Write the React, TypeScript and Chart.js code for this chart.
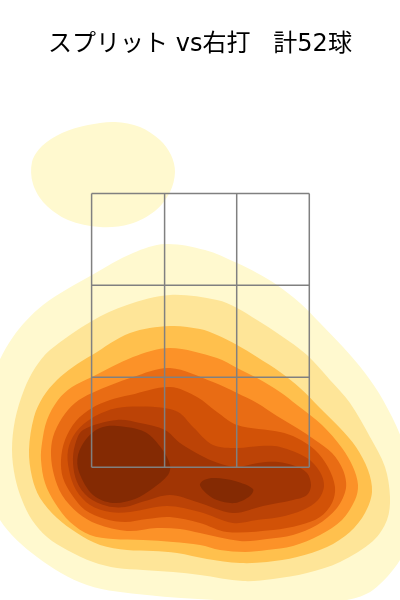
import { useEffect, useRef } from "react";
import { Chart, registerables } from "chart.js";

Chart.register(...registerables);

const titleText = "スプリット vs右打   計52球";

// Strike-zone grid lines (plot units)
const zoneX = [91.6, 164.6, 236.7, 309.3];
const zoneY = [193.4, 285.3, 377.2, 467.2];

// Density contours, outermost first
const level1Top = [[175,172],[170,192],[155,211],[130,224],[100,227],[68,220],[45,204],[33,184],[32,162],[42,146],[62,133],[88,125],[115,122],[140,127],[160,140],[171,155]];
const level1 = [[165,244],[133,253],[92,275],[43,305],[13,337],[-6,375],[-14,430],[-12,480],[0,520],[37,557],[87,585],[147,595],[233,601],[300,604],[347,600],[373,590],[400,560],[411,530],[414,490],[402,440],[383,400],[365,373],[343,347],[320,323],[300,303],[277,285],[257,273],[237,263],[205,250]];
const level2 = [[170,295],[127,305],[92,321],[50,350],[35,368],[24,390],[15,420],[12,450],[15,477],[22,500],[32,520],[47,537],[67,550],[93,562],[117,568],[143,570],[173,572],[200,575],[243,581],[273,579],[307,573],[340,562],[373,541],[387,520],[390,497],[385,467],[370,437],[350,403],[330,380],[307,355],[280,335],[257,320],[237,308],[217,300]];
const level3 = [[170,326],[130,333],[92,355],[73,367],[57,380],[43,397],[34,417],[29,450],[32,477],[40,498],[57,518],[77,533],[100,545],[127,550],[153,551],[177,553],[207,559],[240,563],[267,562],[297,557],[327,547],[350,532],[365,513],[372,492],[368,470],[356,447],[340,428],[320,408],[300,388],[280,372],[257,357],[237,345],[217,335],[200,329]];
const level4 = [[170,348],[133,357],[92,377],[72,387],[58,400],[47,420],[42,443],[41,460],[45,483],[55,503],[70,522],[90,535],[113,539],[143,540],[173,542],[200,545],[220,550],[245,552],[267,550],[293,546],[320,535],[342,520],[355,500],[358,485],[353,467],[342,448],[322,425],[297,405],[280,392],[257,378],[237,368],[217,358]];
const level5 = [[170,368],[133,377],[92,393],[75,403],[62,418],[53,437],[51,455],[54,475],[62,495],[78,513],[97,524],[127,531],[157,528],[180,529],[200,533],[240,541],[267,539],[293,535],[317,525],[337,508],[346,488],[343,470],[332,453],[315,440],[297,428],[277,416],[257,403],[237,393],[213,382]];
const level6 = [[170,387],[130,395],[110,400],[92,408],[76,421],[65,440],[61,460],[63,478],[72,495],[85,510],[105,519],[125,522],[147,519],[170,517],[200,523],[227,532],[273,530],[300,525],[320,517],[332,503],[335,487],[328,467],[315,450],[297,438],[280,432],[237,425],[217,412],[197,397]];
const level7 = [[155,407],[117,408],[92,418],[76,432],[68,450],[69,470],[76,490],[90,505],[110,512],[130,512],[167,506],[200,512],[233,523],[257,520],[280,517],[303,510],[318,500],[324,486],[320,472],[307,458],[280,447],[260,446],[237,448],[213,445],[193,427],[178,412]];
const level8 = [[117,420],[83,430],[75,445],[73,463],[77,482],[88,497],[107,506],[125,507],[145,501],[170,495],[197,502],[233,513],[263,506],[293,500],[307,495],[311,485],[307,473],[295,466],[278,462],[258,463],[237,467],[218,463],[200,455],[180,443],[165,430],[140,423]];
const level9Left = [[117,426],[100,428],[87,438],[78,455],[79,472],[93,495],[113,503],[135,499],[152,489],[168,475],[170,465],[162,449],[145,432]];
const level9Right = [[200,485],[207,494],[217,500],[235,503],[250,496],[253,489],[235,481],[215,478],[204,480]];

const contours: [number[][], string][] = [
  [level1Top, "#FFF9CF"],
  [level1, "#FFF9CF"],
  [level2, "#FEE598"],
  [level3, "#FFC04D"],
  [level4, "#FC9228"],
  [level5, "#E96C14"],
  [level6, "#D25207"],
  [level7, "#BC4306"],
  [level8, "#A13504"],
  [level9Left, "#842A03"],
  [level9Right, "#842A03"],
];

// Overlap the ends of each ring so the spline has no kink where it closes.
const toRing = (pts: number[][]) =>
  [pts[pts.length - 1], ...pts, pts[0], pts[1]].map(([x, y]) => ({ x, y }));

export default function App() {
  const ref = useRef<HTMLCanvasElement | null>(null);
  useEffect(() => {
    const n = contours.length;
    const fills = contours.map(([pts, color], i) => ({
      data: toRing(pts),
      showLine: true,
      fill: "shape",
      backgroundColor: color,
      borderWidth: 0,
      pointRadius: 0,
      tension: 0.33,
      order: n - i + 1,
    }));
    const gridStyle = {
      showLine: true,
      fill: false,
      borderColor: "#808080",
      borderWidth: 1.5,
      pointRadius: 0,
      tension: 0,
      order: 0,
    };
    const verticals = zoneX.map((x) => ({
      ...gridStyle,
      data: [{ x, y: zoneY[0] }, { x, y: zoneY[3] }],
    }));
    const horizontals = zoneY.map((y) => ({
      ...gridStyle,
      data: [{ x: zoneX[0], y }, { x: zoneX[3], y }],
    }));
    const chart = new Chart(ref.current!, {
      type: "scatter",
      data: { datasets: [...fills, ...verticals, ...horizontals] as any },
      options: {
        animation: false,
        responsive: false,
        devicePixelRatio: 1,
        layout: { padding: 0 },
        plugins: {
          legend: { display: false },
          tooltip: { enabled: false },
          title: {
            display: true,
            text: titleText,
            color: "#000000",
            font: { family: "'DejaVu Sans','Noto Sans CJK JP',sans-serif", size: 24, weight: "normal", lineHeight: 1.2 },
            padding: { top: 30.6, bottom: 10.6 },
          },
        },
        scales: {
          x: { type: "linear", display: false, min: 0, max: 400 },
          y: { type: "linear", display: false, min: 70, max: 600, reverse: true },
        },
      },
    });
    return () => chart.destroy();
  }, []);
  return (
    <div style={{ position: "fixed", left: 0, top: 0, width: 400, height: 600 }}>
      <canvas ref={ref} width={400} height={600} style={{ display: "block" }} />
    </div>
  );
}
